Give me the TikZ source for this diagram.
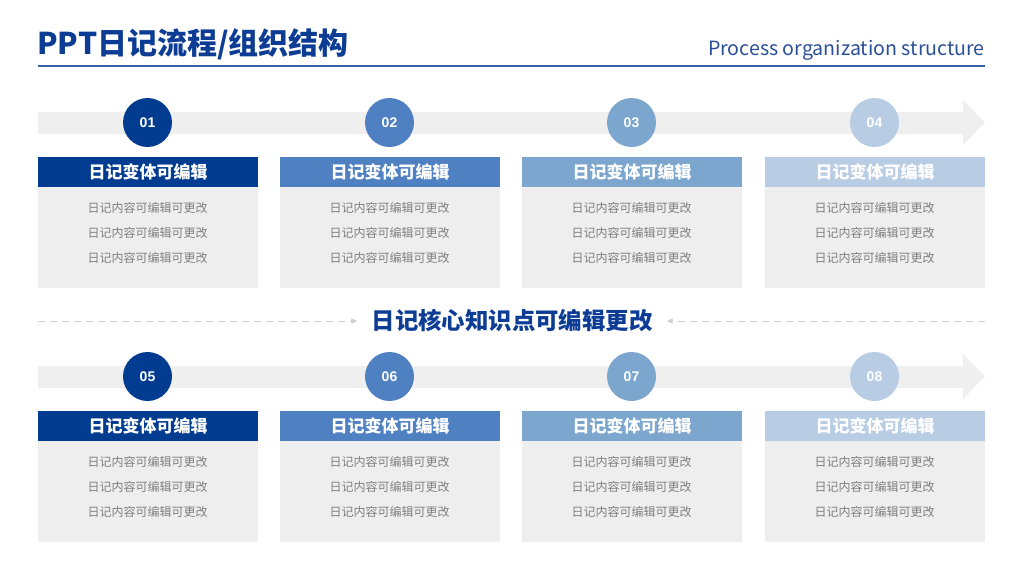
\documentclass[tikz,border=0pt]{standalone}
\usepackage{fontspec}
\setmainfont{Noto Sans CJK SC}
\newfontfamily\numfont{Liberation Sans}
\usetikzlibrary{arrows.meta}
\definecolor{cA}{HTML}{023C90}
\definecolor{cB}{HTML}{4F81C2}
\definecolor{cC}{HTML}{7CA6CE}
\definecolor{cD}{HTML}{B8CCE4}
\definecolor{bandgray}{HTML}{EFEFEF}
\definecolor{bodygray}{HTML}{EEEEEE}
\definecolor{titleblue}{HTML}{0C3C94}
\definecolor{linecol}{HTML}{3A5FA8}
\definecolor{subcol}{HTML}{2A4E98}
\definecolor{textgray}{HTML}{808080}
\definecolor{dashgray}{HTML}{CFCFCF}
\begin{document}
\begin{tikzpicture}[x=1pt,y=-1pt,
  numcircle/.style={circle, inner sep=0pt, minimum size=49pt, text=white,
    font=\numfont\bfseries\fontsize{14}{14}\selectfont},
  headbox/.style={rectangle, inner sep=0pt, minimum width=220pt, minimum height=30pt,
    anchor=north west, text=white, font=\bfseries\fontsize{17}{17}\selectfont},
  bodybox/.style={rectangle, inner sep=0pt, fill=bodygray, minimum width=220pt,
    minimum height=101pt, anchor=north west},
  bodytext/.style={inner sep=0pt, text=textgray, font=\fontsize{12}{12}\selectfont},
  dashline/.style={draw=dashgray, line width=1pt, dash pattern=on 7pt off 5pt,
    -{Latex[length=6pt,width=6pt]}}
]
\useasboundingbox (0,0) rectangle (1024,576);

% title
\node[anchor=west, inner sep=0pt, text=titleblue, font=\bfseries\fontsize{30}{30}\selectfont] (title) at (37,44) {PPT日记流程/组织结构};
\node[anchor=east, inner sep=0pt, text=subcol, font=\fontsize{19.6}{19.6}\selectfont] (sub) at (985,50) {Process organization structure};
\coordinate (tl) at (38,66);
\coordinate (tr) at (985,66);
\draw[linecol, line width=2pt] (tl) -- (tr);

% rows
\foreach \row/\dy in {0/0, 1/254} {
  \fill[bandgray] (38,112+\dy) -- (963,112+\dy) -- (963,100+\dy) -- (985,122.5+\dy)
     -- (963,145+\dy) -- (963,134+\dy) -- (38,134+\dy) -- cycle;
  \foreach \i/\x/\col in {1/38/cA, 2/280/cB, 3/522/cC, 4/765/cD} {
    \pgfmathtruncatemacro{\num}{\row*4+\i}
    \node[numcircle, fill=\col] (n\num) at (\x+109.5,122.5+\dy) {0\num};
    \node[headbox, fill=\col] (h\num) at (\x,157+\dy) {日记变体可编辑};
    \node[bodybox] (b\num) at (\x,187+\dy) {};
    \node[bodytext] (t\num a) at (\x+109.5,208+\dy) {日记内容可编辑可更改};
    \node[bodytext] (t\num b) at (\x+109.5,233+\dy) {日记内容可编辑可更改};
    \node[bodytext] (t\num c) at (\x+109.5,258+\dy) {日记内容可编辑可更改};
  }
}

% middle
\node[inner xsep=14pt, inner ysep=0pt, text=titleblue, font=\bfseries\fontsize{23.4}{23.4}\selectfont] (mid) at (512,321) {日记核心知识点可编辑更改};
\coordinate (dl) at (38,321);
\coordinate (dr) at (985,321);
\draw[dashline] (dl) -- (mid.west);
\draw[dashline] (dr) -- (mid.east);
\end{tikzpicture}
\end{document}
